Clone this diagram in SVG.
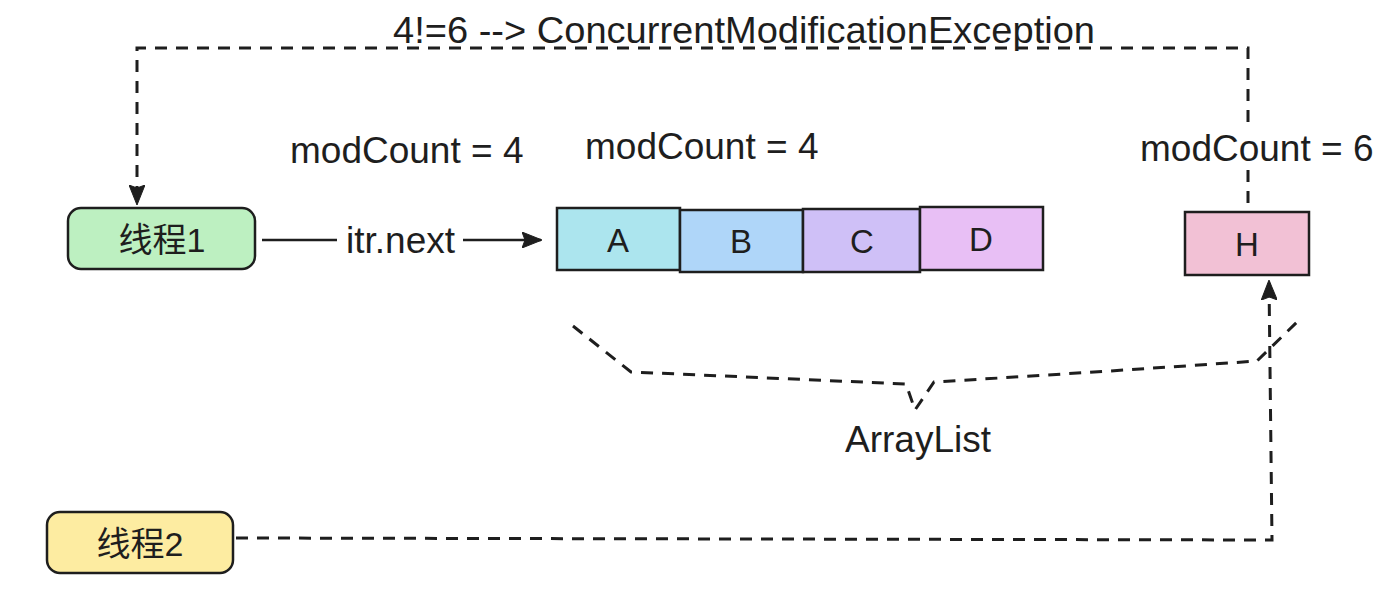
<svg xmlns="http://www.w3.org/2000/svg" width="1388" height="598" viewBox="0 0 1388 598">
<style>
.lbl{font-family:"Liberation Sans",Arial,sans-serif;font-size:37px;fill:#1e1e1e}
.cjk{font-family:"Liberation Sans","Noto Sans CJK SC",sans-serif;font-size:34px;fill:#1e1e1e}
.cell{font-family:"Liberation Sans",sans-serif;font-size:33px;fill:#1e1e1e}
.box{stroke:#1e1e1e;stroke-width:2.5}
.ln{fill:none;stroke:#1e1e1e;stroke-width:2.5}
.dash{fill:none;stroke:#1e1e1e;stroke-width:3;stroke-dasharray:12 9}
</style>
<defs>
<marker id="arr" viewBox="0 0 20 16" refX="19" refY="8" markerWidth="20" markerHeight="16" markerUnits="userSpaceOnUse" orient="auto">
<path d="M0,0 L20,8 L0,16 L3,8 z" fill="#1e1e1e" stroke="#1e1e1e" stroke-width="1"/>
</marker>
</defs>
<rect width="1388" height="598" fill="#ffffff"/>

<g id="connectors">
<path class="dash" d="M1248,122 L1248,48 L137,48 L137,204" marker-end="url(#arr)"/>
<path class="dash" d="M1248,170 L1248,205"/>
<path class="ln" d="M262,240 L337,240"/>
<path class="ln" d="M463,240 L541,240" marker-end="url(#arr)"/>
<path class="dash" d="M236,538 L1272,540 L1269,281" marker-end="url(#arr)"/>
<path class="dash" d="M573,326 L631,372 Q770,378 906,384 L915,410 L934,382 Q1100,372 1257,361 L1297,322"/>
<text class="lbl" x="346" y="253">itr.next</text>
<text class="lbl" x="393" y="43" textLength="702" lengthAdjust="spacingAndGlyphs">4!=6 --&gt; ConcurrentModificationException</text>
</g>

<g id="thread1">
<rect class="box" x="68" y="208" width="187" height="61" rx="13" fill="#bdf0c1"/>
<text class="cjk" x="162" y="252" text-anchor="middle">线程1</text>
</g>

<g id="thread2">
<rect class="box" x="47" y="512" width="186" height="61" rx="13" fill="#fdeca1"/>
<text class="cjk" x="140" y="556" text-anchor="middle">线程2</text>
</g>

<g id="cellA">
<rect class="box" x="557" y="208" width="123" height="62" fill="#ace5ee"/>
<text class="cell" x="618" y="252" text-anchor="middle">A</text>
</g>
<g id="cellB">
<rect class="box" x="680" y="210" width="123" height="62" fill="#afd6f9"/>
<text class="cell" x="741" y="253" text-anchor="middle">B</text>
</g>
<g id="cellC">
<rect class="box" x="803" y="209" width="117" height="63" fill="#cfc0f7"/>
<text class="cell" x="862" y="253" text-anchor="middle">C</text>
</g>
<g id="cellD">
<rect class="box" x="920" y="207" width="123" height="63" fill="#e8bff5"/>
<text class="cell" x="981" y="251" text-anchor="middle">D</text>
</g>
<g id="cellH">
<rect class="box" x="1185" y="212" width="124" height="63" fill="#f2c1d5"/>
<text class="cell" x="1247" y="256" text-anchor="middle">H</text>
</g>

<g id="labels">
<text class="lbl" x="290" y="163">modCount = 4</text>
<text class="lbl" x="585" y="159">modCount = 4</text>
<text class="lbl" x="1140" y="161">modCount = 6</text>
<text class="lbl" x="845" y="452">ArrayList</text>
</g>
</svg>
